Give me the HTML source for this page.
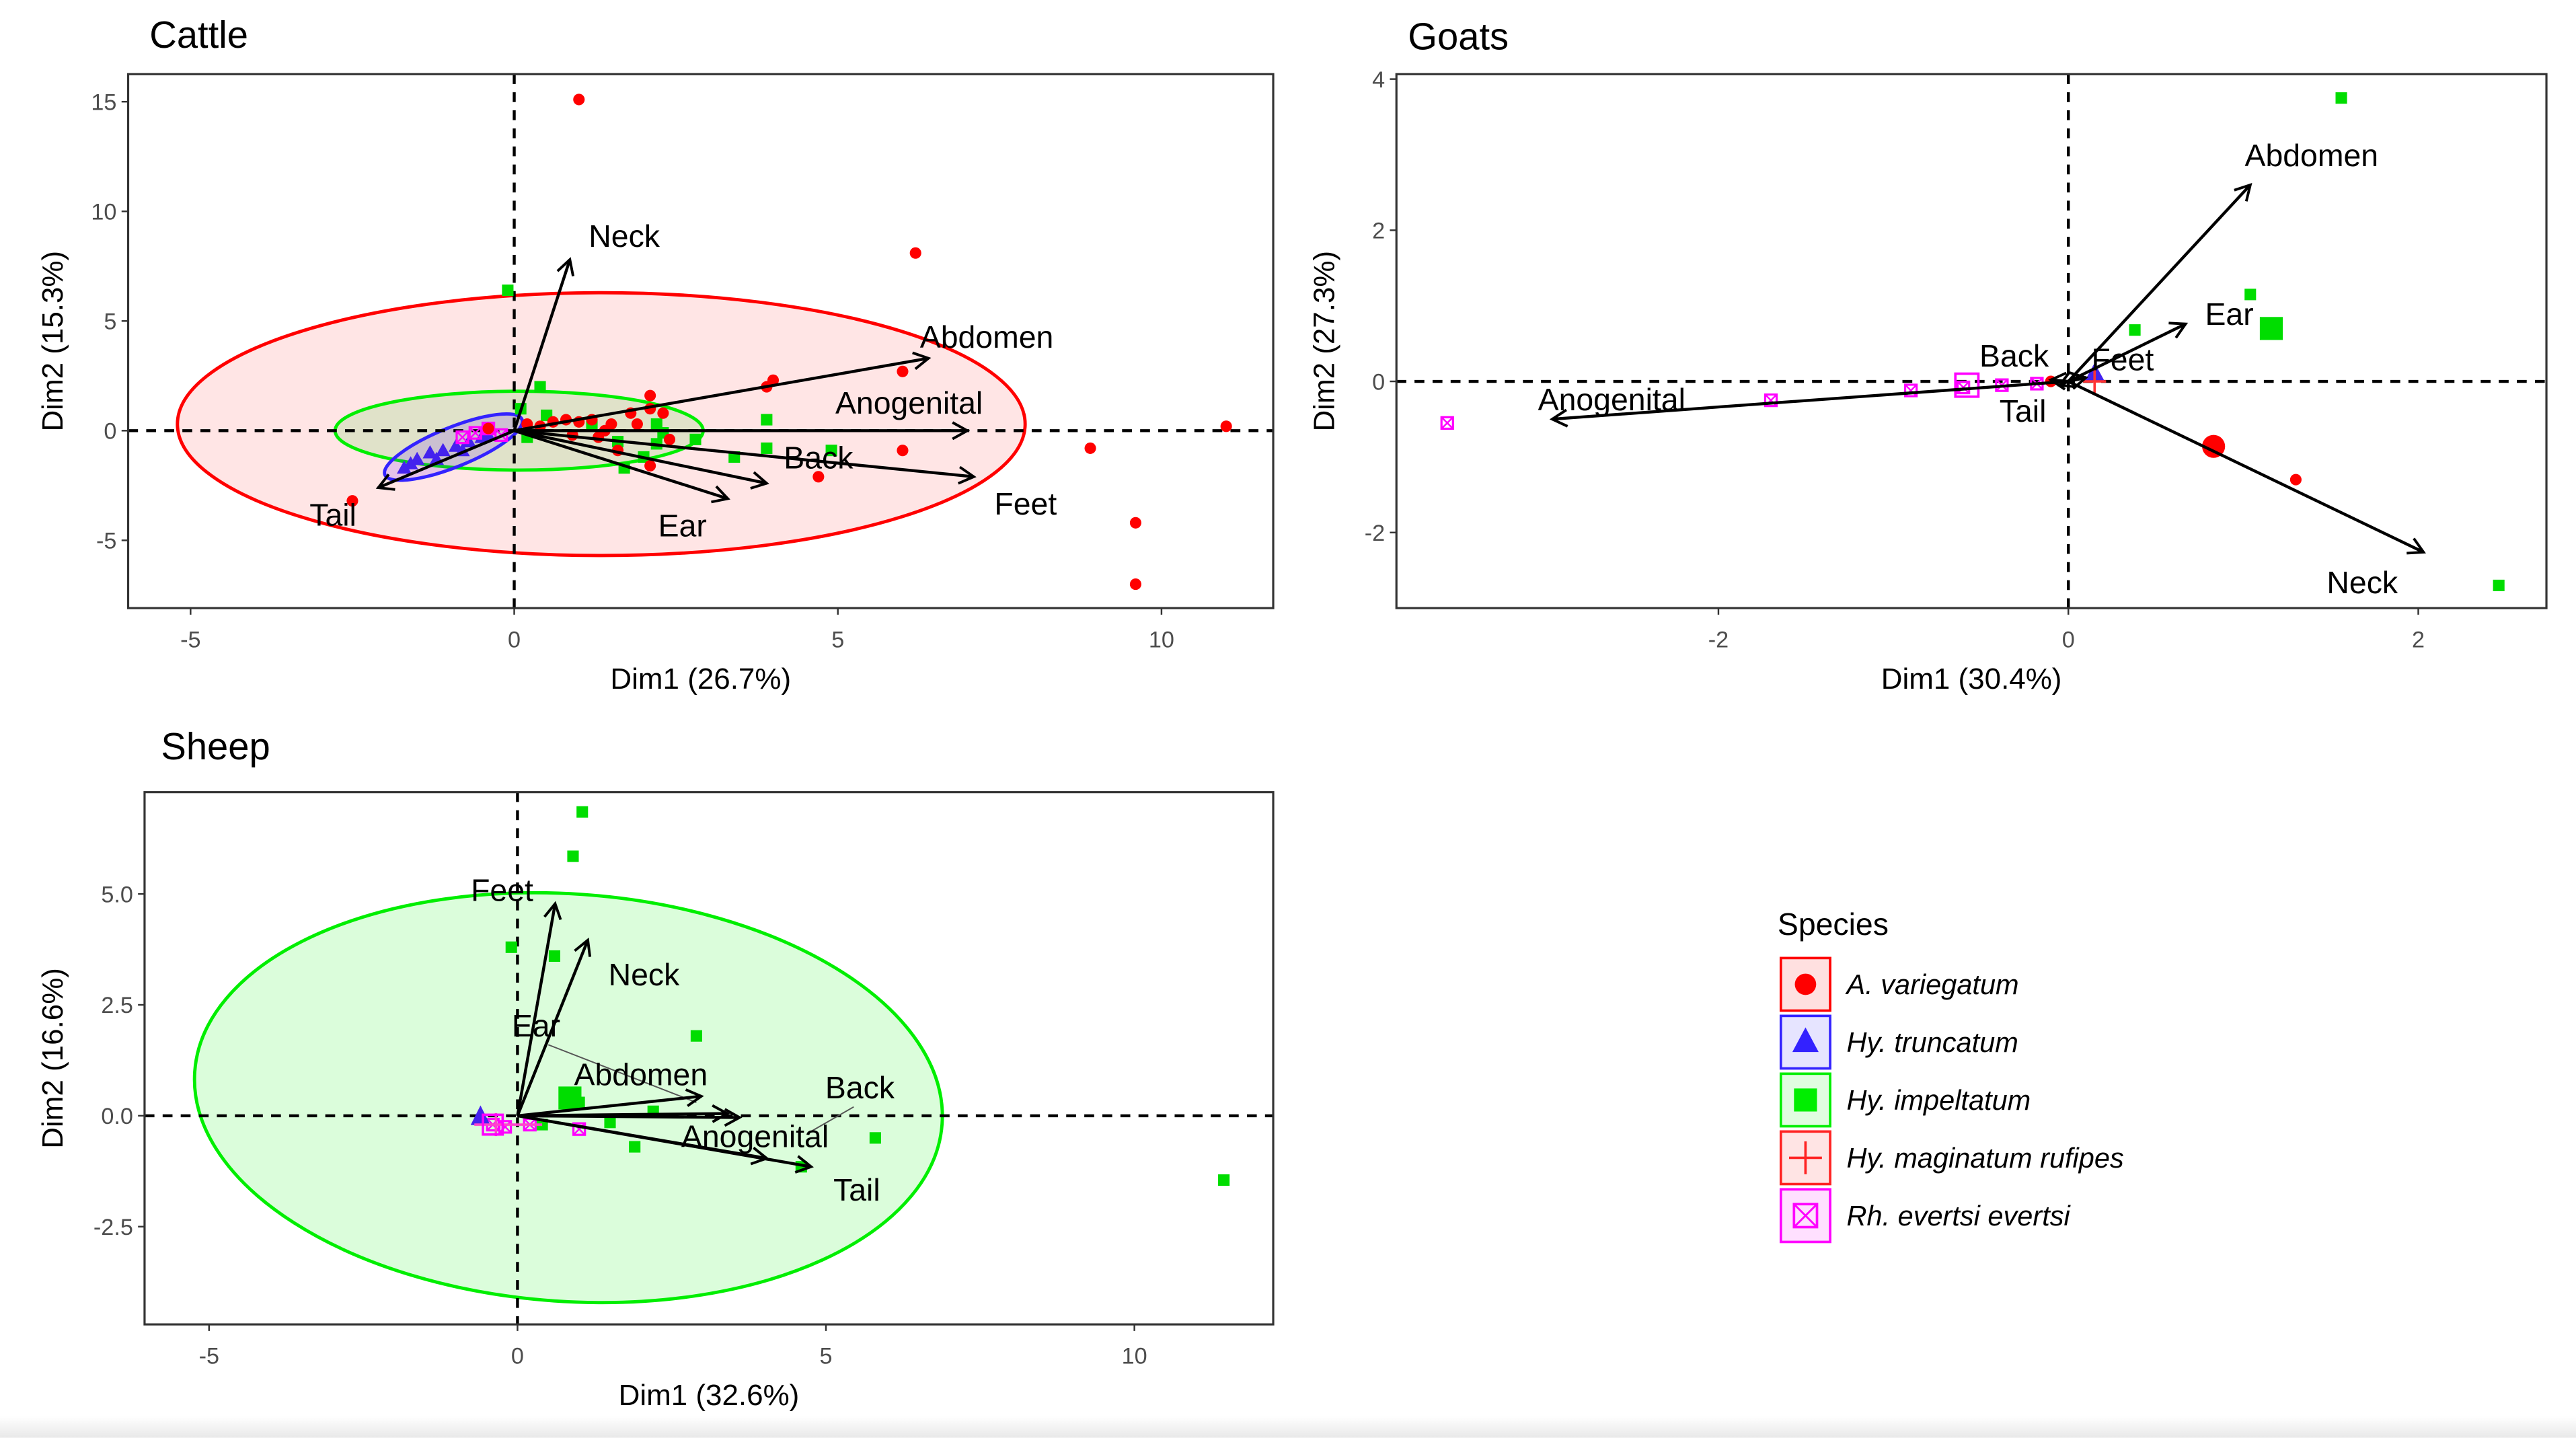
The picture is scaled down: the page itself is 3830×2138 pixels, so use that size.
<!DOCTYPE html>
<html><head><meta charset="utf-8"><style>
html,body{margin:0;padding:0;background:#fff}
svg{display:block}
text{font-family:"Liberation Sans",sans-serif}
.tick{fill:#4d4d4d;font-size:14px}
.ttl{fill:#000;font-size:18px}
.lab{fill:#000;font-size:19px;text-anchor:middle}
.ptitle{font-size:23px}
</style></head><body>
<svg id="fig" width="3830" height="2138" viewBox="0 0 1568 875" xmlns="http://www.w3.org/2000/svg">
<defs><marker id="ah" markerWidth="12" markerHeight="12" refX="10" refY="6" orient="auto" markerUnits="userSpaceOnUse"><path d="M1,1 L10,6 L1,11" fill="none" stroke="#000" stroke-width="1.6"/></marker>
<linearGradient id="bot" x1="0" y1="0" x2="0" y2="1"><stop offset="0" stop-color="#fff"/><stop offset="1" stop-color="#e8e8e8"/></linearGradient></defs>
<rect x="0" y="862" width="1568" height="13" fill="url(#bot)"/>
<g id="root"></g>
</svg>
<script>
// ---- Cattle data ----
const cattleArrowNames=["Neck","Abdomen","Anogenital","Feet","Back","Ear","Tail"];
const cattleArrowX=[0.86,6.4,7.0,7.1,3.9,3.3,-2.1];
const cattleArrowY=[7.8,3.3,0,-2.1,-2.4,-3.1,-2.6];
const cattleLabelX=[1.7,7.3,6.1,7.9,4.7,2.6,-2.8];
const cattleLabelY=[8.9,4.3,1.3,-3.3,-1.2,-4.3,-3.8];
const cattleRedX=[1.0,6.2,6.0,3.9,4.0,2.1,2.1,11.0,8.9,6.0,4.7,9.6,9.6,-2.5,2.1,1.6,2.4,1.5,1.2,1.0,0.8,0.6,0.4,1.8,1.4,0.2,-0.4,2.3,1.9,1.3,0.9];
const cattleRedY=[15.1,8.1,2.7,2.0,2.3,1.6,1.0,0.2,-0.8,-0.9,-2.1,-4.2,-7.0,-3.2,-1.6,-0.9,-0.4,0.3,0.5,0.4,0.5,0.4,0.2,0.8,0.0,0.3,0.1,0.8,0.3,-0.3,-0.2];
const cattleGreenX=[-0.1,0.4,2.2,2.2,2.8,3.9,3.9,3.4,1.7,2.0,4.9,0.1,0.5,1.2,2.3,0.2,1.6];
const cattleGreenY=[6.4,2.0,0.3,-0.6,-0.4,0.5,-0.8,-1.2,-1.7,-1.2,-0.9,1.0,0.7,0.2,-0.1,-0.3,-0.5];
const cattleBlueX=[-1.7,-1.5,-1.3,-1.1,-0.9,-0.7,-0.5,-1.2,-0.8,-0.4,-1.6];
const cattleBlueY=[-1.7,-1.3,-1.0,-0.9,-0.7,-0.5,-0.3,-1.3,-0.9,-0.2,-1.5];
const cattleMagX=[-0.6,-0.4,-0.2,-0.8];
const cattleMagY=[-0.1,0.1,-0.2,-0.3];
const cattleXTicks=[-5,0,5,10];
const cattleYTicks=[-5,0,5,10,15];
// ---- Goats data ----
const goatArrowNames=["Abdomen","Ear","Neck","Anogenital","Back","Feet","Tail"];
const goatArrowX=[1.04,0.67,2.03,-2.95,-0.1,0.1,-0.05];
const goatArrowY=[2.6,0.76,-2.26,-0.5,0.02,0.05,-0.05];
const goatLabelX=[1.39,0.92,1.68,-2.61,-0.31,0.31,-0.26];
const goatLabelY=[3.0,0.9,-2.65,-0.23,0.35,0.3,-0.38];
const goatGreenX=[1.56,1.04,0.38,2.46];
const goatGreenY=[3.75,1.15,0.68,-2.7];
const goatRedX=[1.3,-0.1];
const goatRedY=[-1.3,0.0];
const goatMagX=[-3.55,-1.7,-0.9,-0.6,-0.38,-0.18];
const goatMagY=[-0.55,-0.25,-0.12,-0.08,-0.05,-0.03];
const goatXTicks=[-2,0,2];
const goatYTicks=[-2,0,2,4];
// ---- Sheep data ----
const sheepArrowNames=["Feet","Neck","Abdomen","Anogenital","Back","Tail","Ear"];
const sheepArrowX=[0.61,1.14,2.98,3.6,3.4,4.76,4.04];
const sheepArrowY=[4.78,3.96,0.44,-0.04,0.05,-1.15,-0.96];
const sheepLabelX=[-0.25,2.05,2.0,3.85,5.55,5.5,0.3];
const sheepLabelY=[5.1,3.2,0.95,-0.45,0.65,-1.65,2.05];
const sheepGreenX=[1.05,0.9,-0.1,0.6,2.9,5.8,1.9,4.6,11.45,1.5,2.2,0.4,1.0];
const sheepGreenY=[6.85,5.85,3.8,3.6,1.8,-0.5,-0.7,-1.15,-1.45,-0.15,0.1,-0.2,0.3];
const sheepMagX=[1.0,-0.4,-0.2,0.2];
const sheepMagY=[-0.3,-0.2,-0.25,-0.2];
const sheepXTicks=[-5,0,5,10];
const sheepYTicks=[-2.5,0,2.5,5];
const sheepYTickLabels=["-2.5","0.0","2.5","5.0"];

const NS="http://www.w3.org/2000/svg";
const root=document.getElementById('root');
function el(tag,attrs,parent,txt){const e=document.createElementNS(NS,tag);for(const k in attrs)e.setAttribute(k,attrs[k]);if(txt!==undefined)e.textContent=txt;(parent||root).appendChild(e);return e;}

function panel(cfg){
  const g=el('g',{});
  
  
  const sx=v=>cfg.ox+v*cfg.kx, sy=v=>cfg.oy-v*cfg.ky;
  const t=el('text',{x:cfg.titleX,y:cfg.titleY,class:'ptitle'},g,cfg.title);
  
  
  const clip='clip-'+cfg.name;
  const cp=el('clipPath',{id:clip},g);el('rect',{x:cfg.x0,y:cfg.y0,width:cfg.x1-cfg.x0,height:cfg.y1-cfg.y0},cp);
  const inner=el('g',{'clip-path':'url(#'+clip+')'},g);
  (cfg.ellipses||[]).forEach(e=>{
    const ep=el('ellipse',{cx:e.cx,cy:e.cy,rx:e.rx,ry:e.ry,fill:e.fill,'fill-opacity':e.fo,stroke:e.stroke,'stroke-width':2,transform:'rotate('+(e.rot||0)+' '+e.cx+' '+e.cy+')'},inner);
    
    
  });
  el('line',{x1:cfg.x0,x2:cfg.x1,y1:sy(0),y2:sy(0),stroke:'#000','stroke-width':1.8,'stroke-dasharray':'6,5'},inner);
  el('line',{x1:sx(0),x2:sx(0),y1:cfg.y0,y2:cfg.y1,stroke:'#000','stroke-width':1.8,'stroke-dasharray':'6,5'},inner);
  (cfg.points||[]).forEach(p=>{
    for(let i=0;i<p.xs.length;i++){
      const x=sx(p.xs[i]),y=sy(p.ys[i]);let m;
      if(p.shape==='circle')m=el('circle',{cx:x,cy:y,r:p.r||3.5,fill:p.color},inner);
      else if(p.shape==='square')m=el('rect',{x:x-3.5,y:y-3.5,width:7,height:7,fill:p.color},inner);
      else if(p.shape==='tri')m=el('path',{d:`M${x},${y-4.5}L${x+4.5},${y+3.5}L${x-4.5},${y+3.5}Z`,fill:p.color},inner);
      else {m=el('g',{},inner);el('rect',{x:x-3.5,y:y-3.5,width:7,height:7,fill:'none',stroke:p.color,'stroke-width':1.3},m);el('path',{d:`M${x-3.5},${y-3.5}L${x+3.5},${y+3.5}M${x+3.5},${y-3.5}L${x-3.5},${y+3.5}`,stroke:p.color,'stroke-width':1},m);}
      
      
    }
  });
  (cfg.extra||[]).forEach(f=>f(inner,sx,sy));
  for(let i=0;i<cfg.an.length;i++){
    const a=el('line',{x1:sx(0),y1:sy(0),x2:sx(cfg.ax[i]),y2:sy(cfg.ay[i]),stroke:'#000','stroke-width':1.8,'marker-end':'url(#ah)'},inner);
    
    
    const l=el('text',{x:sx(cfg.lx[i]),y:sy(cfg.ly[i])+7,class:'lab'},inner,cfg.an[i]);
    
    
  }
  const box=el('rect',{x:cfg.x0,y:cfg.y0,width:cfg.x1-cfg.x0,height:cfg.y1-cfg.y0,fill:'none',stroke:'#333','stroke-width':1.3},g);
  
  
  cfg.xt.forEach(v=>{el('line',{x1:sx(v),x2:sx(v),y1:cfg.y1,y2:cfg.y1+4,stroke:'#333'},g);
    const tt=el('text',{x:sx(v),y:cfg.y1+24,class:'tick','text-anchor':'middle'},g,String(v));
    
    });
  cfg.yt.forEach((v,i)=>{el('line',{x1:cfg.x0-4,x2:cfg.x0,y1:sy(v),y2:sy(v),stroke:'#333'},g);
    const tt=el('text',{x:cfg.x0-7,y:sy(v)+5,class:'tick','text-anchor':'end'},g,cfg.ytl?cfg.ytl[i]:String(v));
    
    });
  const xa=el('text',{x:(cfg.x0+cfg.x1)/2,y:cfg.y1+49,class:'ttl','text-anchor':'middle'},g,cfg.xtitle);
  
  
  const yy=(cfg.y0+cfg.y1)/2;
  const ya=el('text',{x:cfg.ytx,y:yy,class:'ttl','text-anchor':'middle',transform:`rotate(-90 ${cfg.ytx} ${yy})`},g,cfg.ytitle);
  
  
}

panel({name:'cattle',title:'Cattle',titleX:91,titleY:29,x0:78,x1:775,y0:45,y1:370,ox:313,oy:262,kx:39.4,ky:13.35,
  xt:cattleXTicks,yt:cattleYTicks,xtitle:'Dim1 (26.7%)',ytitle:'Dim2 (15.3%)',ytx:38,
  ellipses:[{name:'a-variegatum-ellipse',cx:366,cy:258,rx:258,ry:80,fill:'#ff0000',fo:0.1,stroke:'#ff0000'},
            {name:'hy-impeltatum-ellipse',cx:316,cy:262,rx:112,ry:24,fill:'#00cc00',fo:0.12,stroke:'#00ee00'},
            {name:'hy-truncatum-ellipse',cx:276,cy:272,rx:45,ry:12,fill:'#5500ff',fo:0.15,stroke:'#3322ff',rot:-22}],
  points:[{name:'hy-truncatum-point',shape:'tri',color:'#4422ee',xs:cattleBlueX,ys:cattleBlueY},
          {name:'rh-evertsi-point',shape:'box',color:'#ff00ff',xs:cattleMagX,ys:cattleMagY},
          {name:'hy-impeltatum-point',shape:'square',color:'#00dd00',xs:cattleGreenX,ys:cattleGreenY},
          {name:'a-variegatum-point',shape:'circle',color:'#ff0000',xs:cattleRedX,ys:cattleRedY}],
  an:cattleArrowNames,ax:cattleArrowX,ay:cattleArrowY,lx:cattleLabelX,ly:cattleLabelY});

panel({name:'goats',title:'Goats',titleX:857,titleY:30,x0:850,x1:1550,y0:45,y1:370,ox:1259,oy:232,kx:106.5,ky:46,
  xt:goatXTicks,yt:goatYTicks,xtitle:'Dim1 (30.4%)',ytitle:'Dim2 (27.3%)',ytx:812,
  points:[{name:'rh-evertsi-point',shape:'box',color:'#ff00ff',xs:goatMagX,ys:goatMagY},
          {name:'hy-impeltatum-point',shape:'square',color:'#00dd00',xs:goatGreenX,ys:goatGreenY},
          {name:'a-variegatum-point',shape:'circle',color:'#ff0000',xs:goatRedX,ys:goatRedY}],
  extra:[(g,sx,sy)=>{
    const c1=el('rect',{x:sx(1.16)-7,y:sy(0.7)-7,width:14,height:14,fill:'#00dd00'},g);
    const c2=el('circle',{cx:sx(0.83),cy:sy(-0.86),r:7,fill:'#ff0000'},g);
    const c3=el('rect',{x:sx(-0.58)-7,y:sy(-0.05)-7,width:14,height:14,fill:'none',stroke:'#ff00ff','stroke-width':1.5},g);
    const c4=el('path',{d:`M${sx(0.15)},${sy(0.05)-9}L${sx(0.15)+6},${sy(0.05)+2}L${sx(0.15)-6},${sy(0.05)+2}Z`,fill:'#4422ee'},g);
    const c5=el('path',{d:`M${sx(0.15)-7},${sy(0)}H${sx(0.15)+7}M${sx(0.15)},${sy(0)-7}V${sy(0)+7}`,stroke:'#ff3333','stroke-width':1.5},g);
  }],
  an:goatArrowNames,ax:goatArrowX,ay:goatArrowY,lx:goatLabelX,ly:goatLabelY});

panel({name:'sheep',title:'Sheep',titleX:98,titleY:462,x0:88,x1:775,y0:482,y1:806,ox:315,oy:679,kx:37.55,ky:27,
  xt:sheepXTicks,yt:sheepYTicks,ytl:sheepYTickLabels,xtitle:'Dim1 (32.6%)',ytitle:'Dim2 (16.6%)',ytx:38,
  ellipses:[{name:'hy-impeltatum-ellipse',cx:346,cy:668,rx:228,ry:124,fill:'#00ee00',fo:0.14,stroke:'#00ee00',rot:4}],
  points:[{name:'hy-impeltatum-point',shape:'square',color:'#00dd00',xs:sheepGreenX,ys:sheepGreenY},
          {name:'rh-evertsi-point',shape:'box',color:'#ff00ff',xs:sheepMagX,ys:sheepMagY}],
  extra:[(g,sx,sy)=>{
    const c1=el('rect',{x:sx(0.85)-7,y:sy(0.4)-7,width:14,height:14,fill:'#00dd00'},g);
    const c2=el('path',{d:`M${sx(-0.6)},${sy(-0.1)-9}L${sx(-0.6)+6},${sy(-0.1)+3}L${sx(-0.6)-6},${sy(-0.1)+3}Z`,fill:'#4422ee'},g);
    const c3=el('path',{d:`M${sx(-0.7)},${sy(-0.2)}H${sx(0.4)}M${sx(-0.35)},${sy(-0.2)-7}V${sy(-0.2)+7}`,stroke:'#ff44cc','stroke-width':1.5},g);
    const c4=el('rect',{x:sx(-0.4)-6,y:sy(-0.2)-6,width:12,height:12,fill:'none',stroke:'#ff00ff','stroke-width':1.5},g);
    const l1=el('line',{x1:sx(0.5),y1:sy(1.6),x2:sx(2.9),y2:sy(0.3),stroke:'#555','stroke-width':0.8},g);
    const l2=el('line',{x1:sx(5.45),y1:sy(0.2),x2:sx(4.7),y2:sy(-0.4),stroke:'#555','stroke-width':0.8},g);
  }],
  an:sheepArrowNames,ax:sheepArrowX,ay:sheepArrowY,lx:sheepLabelX,ly:sheepLabelY});

// ---- Legend ----
const legendLabels=["A. variegatum","Hy. truncatum","Hy. impeltatum","Hy. maginatum rufipes","Rh. evertsi evertsi"];
const legendColors=["#ff0000","#3322ff","#00ee00","#ff2222","#ff00ff"];
const lg=el('g',{});


const lt=el('text',{x:1082,y:569,'font-size':19},lg,'Species');


legendLabels.forEach((lab,i)=>{
  const y=583+i*35.2, cx=1099, cy=y+16;
  const e=el('g',{},lg);
  
  
  const c=legendColors[i];
  el('rect',{x:1084,y:y,width:30,height:32,fill:c,'fill-opacity':0.12,stroke:c,'stroke-width':1.5},e);
  if(i===0)el('circle',{cx:cx,cy:cy,r:6.5,fill:c},e);
  if(i===1)el('path',{d:`M${cx},${cy-9}L${cx+8},${cy+6}L${cx-8},${cy+6}Z`,fill:c},e);
  if(i===2)el('rect',{x:cx-7,y:cy-7,width:14,height:14,fill:c},e);
  if(i===3)el('path',{d:`M${cx-10},${cy}H${cx+10}M${cx},${cy-10}V${cy+10}`,stroke:c,'stroke-width':1.5},e);
  if(i===4){el('rect',{x:cx-7,y:cy-7,width:14,height:14,fill:'none',stroke:c,'stroke-width':1.5},e);el('path',{d:`M${cx-7},${cy-7}L${cx+7},${cy+7}M${cx+7},${cy-7}L${cx-7},${cy+7}`,stroke:c,'stroke-width':1.2},e);}
  el('text',{x:1124,y:cy+6,'font-size':17,'font-style':'italic'},e,lab);
});
</script>
</body></html>
